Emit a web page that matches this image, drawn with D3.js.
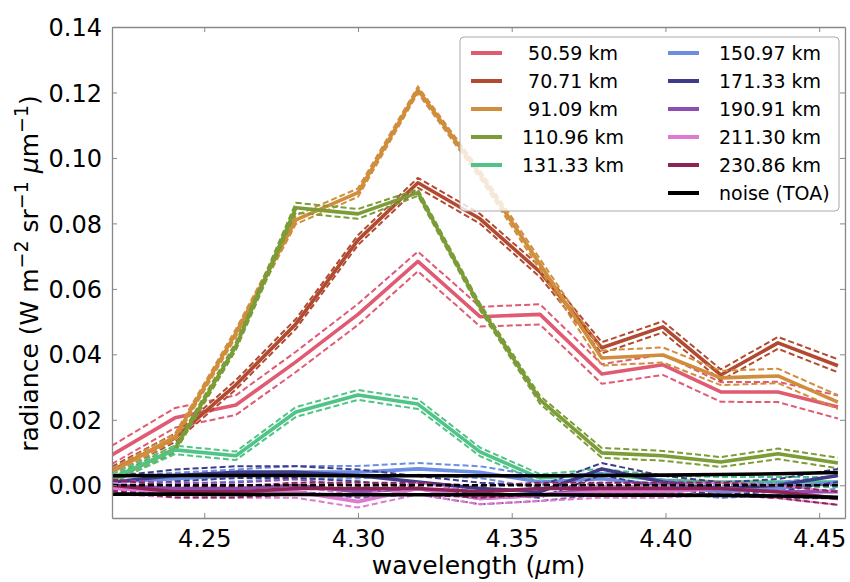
<!DOCTYPE html>
<html>
<head>
<meta charset="utf-8">
<script src="https://cdnjs.cloudflare.com/ajax/libs/d3/7.8.5/d3.min.js"></script>
<style>
  body { margin: 0; background: #fff; }
  svg { font-family: 'DejaVu Sans', sans-serif; }
</style>
</head>
<body>
<svg></svg>
<script>
//data
var wavelength = [4.2200, 4.2405, 4.2603, 4.2798, 4.3000, 4.3195, 4.3397, 4.3592, 4.3793, 4.3992, 4.4180, 4.4366, 4.4561];

var labels = [' 50.59 km', ' 70.71 km', ' 91.09 km', '110.96 km', '131.33 km',
              '150.97 km', '171.33 km', '190.91 km', '211.30 km', '230.86 km'];

var colors = ['#e05a72', '#b24a31', '#d08e3c', '#7b9c37', '#4fc486',
              '#6c8ee0', '#3e3b8b', '#8d4faf', '#dc7bcf', '#8d2457'];

var rad50  = [0.0093, 0.0206, 0.0245, 0.0377, 0.0522, 0.0684, 0.0515, 0.0522, 0.0340, 0.0368, 0.0285, 0.0285, 0.0239];
var rad70  = [0.0045, 0.0145, 0.0307, 0.0493, 0.0749, 0.0924, 0.0814, 0.0652, 0.0420, 0.0484, 0.0337, 0.0435, 0.0365];
var rad91  = [0.0041, 0.0148, 0.0465, 0.0811, 0.0894, 0.1208, 0.0950, 0.0675, 0.0389, 0.0398, 0.0328, 0.0334, 0.0254];
var rad110 = [0.0016, 0.0111, 0.0425, 0.0848, 0.0829, 0.0894, 0.0545, 0.0261, 0.0099, 0.0090, 0.0071, 0.0096, 0.0068];
var rad131 = [0.0022, 0.0108, 0.0090, 0.0224, 0.0276, 0.0248, 0.0102, 0.0022, 0.0035, 0.0015, 0.0010, 0.0010, 0.0010];
var rad150 = [0.0010, 0.0020, 0.0030, 0.0040, 0.0040, 0.0050, 0.0040, 0.0010, 0.0020, 0.0000, -0.0020, -0.0010, 0.0010];
var rad171 = [0.0010, 0.0030, 0.0040, 0.0040, 0.0030, 0.0010, -0.0010, -0.0020, 0.0050, 0.0010, -0.0010, 0.0000, 0.0030];
var rad190 = [0.0000, -0.0010, -0.0010, 0.0000, -0.0020, -0.0010, -0.0040, -0.0030, -0.0010, -0.0010, -0.0010, -0.0020, -0.0020];
var rad211 = [-0.0010, -0.0020, -0.0020, -0.0020, -0.0050, -0.0010, -0.0040, -0.0030, -0.0020, -0.0020, -0.0010, -0.0020, -0.0040];
var rad230 = [0.0000, -0.0020, -0.0020, -0.0010, -0.0010, -0.0010, -0.0020, -0.0010, -0.0010, -0.0010, -0.0010, -0.0020, -0.0040];

var err50  = [0.0028, 0.0030, 0.0030, 0.0031, 0.0032, 0.0030, 0.0030, 0.0031, 0.0030, 0.0031, 0.0030, 0.0031, 0.0035];
var err70  = [0.0012, 0.0013, 0.0014, 0.0015, 0.0015, 0.0015, 0.0015, 0.0016, 0.0017, 0.0017, 0.0017, 0.0018, 0.0020];
var err91  = [0.0010, 0.0010, 0.0012, 0.0013, 0.0013, 0.0010, 0.0012, 0.0016, 0.0023, 0.0023, 0.0022, 0.0022, 0.0021];
var err110 = [0.0010, 0.0010, 0.0012, 0.0015, 0.0015, 0.0010, 0.0010, 0.0012, 0.0015, 0.0015, 0.0015, 0.0016, 0.0016];
var err131 = [0.0012, 0.0013, 0.0013, 0.0015, 0.0015, 0.0015, 0.0013, 0.0012, 0.0015, 0.0015, 0.0015, 0.0015, 0.0015];
var err150 = [0.0018, 0.0018, 0.0018, 0.0019, 0.0019, 0.0018, 0.0018, 0.0018, 0.0018, 0.0018, 0.0019, 0.0019, 0.0020];
var err171 = [0.0017, 0.0018, 0.0018, 0.0018, 0.0018, 0.0018, 0.0018, 0.0018, 0.0018, 0.0019, 0.0019, 0.0019, 0.0020];
var err190 = [0.0017, 0.0017, 0.0018, 0.0018, 0.0018, 0.0018, 0.0018, 0.0018, 0.0018, 0.0018, 0.0019, 0.0019, 0.0020];
var err211 = [0.0017, 0.0017, 0.0018, 0.0018, 0.0018, 0.0018, 0.0018, 0.0018, 0.0018, 0.0018, 0.0019, 0.0019, 0.0020];
var err230 = [0.0017, 0.0017, 0.0017, 0.0018, 0.0018, 0.0018, 0.0018, 0.0018, 0.0018, 0.0018, 0.0018, 0.0019, 0.0020];

var noiseUp   = [0.0029, 0.0030, 0.0030, 0.0030, 0.0029, 0.0029, 0.0029, 0.0029, 0.0030, 0.0031, 0.0033, 0.0035, 0.0039];
var noiseDown = [-0.0027, -0.0027, -0.0028, -0.0028, -0.0029, -0.0029, -0.0029, -0.0029, -0.0030, -0.0030, -0.0031, -0.0033, -0.0037];

var xTicks = [4.25, 4.30, 4.35, 4.40, 4.45];
var yTicks = [0.00, 0.02, 0.04, 0.06, 0.08, 0.10, 0.12, 0.14];

var radiance = [rad50, rad70, rad91, rad110, rad131, rad150, rad171, rad190, rad211, rad230];
var errors   = [err50, err70, err91, err110, err131, err150, err171, err190, err211, err230];

//variables
var margin = {top: 27, right: 5, bottom: 64, left: 112},
    width  = 850 - margin.left - margin.right,
    height = 582 - margin.top  - margin.bottom;

var svg = d3.select('svg')
            .attr('width', 850)
            .attr('height', 582);

var g = svg.append('g')
            .attr('transform', 'translate(' + margin.left + ',' + margin.top + ')');

var x = d3.scaleLinear().domain([4.22, 4.4584]).range([0, width]);
var y = d3.scaleLinear().domain([-0.01, 0.14]).range([height, 0]);

g.append('clipPath').attr('id', 'clip')
    .append('rect').attr('width', width).attr('height', height);

var line = d3.line()
    .x((d, i) => x(wavelength[i]))
    .y(d => y(d));

var plot = g.append('g').attr('clip-path', 'url(#clip)');

// each altitude: solid radiance plus dashed +/- error
radiance.forEach((r, k) => {
    var up = r.map((v, i) => v + errors[k][i]),
        lo = r.map((v, i) => v - errors[k][i]);
    [up, lo].forEach(d => {
        plot.append('path')
            .attr('d', line(d))
            .attr('fill', 'none')
            .attr('stroke', colors[k])
            .attr('stroke-width', 2)
            .attr('stroke-dasharray', '6,3');
    });
    plot.append('path')
        .attr('d', line(r))
        .attr('fill', 'none')
        .attr('stroke', colors[k])
        .attr('stroke-width', 3.6)
        .attr('stroke-linejoin', 'round');
});

// noise level
plot.append('path')
    .attr('d', line(wavelength.map(() => 0)))
    .attr('fill', 'none')
    .attr('stroke', '#000')
    .attr('stroke-width', 2.5)
    .attr('stroke-dasharray', '6,3');

[noiseUp, noiseDown].forEach(d => {
    plot.append('path')
        .attr('d', line(d))
        .attr('fill', 'none')
        .attr('stroke', '#000')
        .attr('stroke-width', 3.6)
        .attr('stroke-linejoin', 'round');
});

//axes
var tickFmt = d3.format('.2f');
var spine = '#888';

var xAxis = g.append('g').attr('transform', 'translate(0,' + height + ')')
    .call(d3.axisBottom(x).tickValues(xTicks).tickFormat(tickFmt).tickSizeInner(-5).tickSizeOuter(0).tickPadding(12));
var yAxis = g.append('g')
    .call(d3.axisLeft(y).tickValues(yTicks).tickFormat(tickFmt).tickSizeInner(-5).tickSizeOuter(0).tickPadding(10));
var xTop = g.append('g')
    .call(d3.axisTop(x).tickValues(xTicks).tickFormat('').tickSizeInner(-5).tickSizeOuter(0));
var yRight = g.append('g').attr('transform', 'translate(' + width + ',0)')
    .call(d3.axisRight(y).tickValues(yTicks).tickFormat('').tickSizeInner(-5).tickSizeOuter(0));

[xAxis, yAxis, xTop, yRight].forEach(a => {
    a.selectAll('.domain').attr('stroke', spine).attr('stroke-width', 1.3);
    a.selectAll('.tick line').attr('stroke', spine);
    a.selectAll('.tick text').attr('fill', '#000').style('font-size', '24px').style('font-family', 'DejaVu Sans');
});
yAxis.selectAll('.tick text').attr('dy', '0.36em');

// labels
g.append('text')
    .attr('x', width / 2)
    .attr('y', height + 56)
    .attr('text-anchor', 'middle')
    .style('font-size', '25px')
    .html('wavelength (<tspan font-style="italic">\u03bc</tspan>m)');

var ylab = svg.append('text')
    .attr('transform', 'translate(38,' + (margin.top + height / 2 + 1) + ') rotate(-90)')
    .attr('text-anchor', 'middle')
    .style('font-size', '25px');
ylab.append('tspan').text('radiance (W m');
ylab.append('tspan').attr('dy', -10).style('font-size', '19px').text('\u22122');
ylab.append('tspan').attr('dy', 10).text(' sr');
ylab.append('tspan').attr('dy', -10).style('font-size', '19px').text('\u22121');
ylab.append('tspan').attr('dy', 10).text(' ');
ylab.append('tspan').attr('font-style', 'italic').text('\u03bc');
ylab.append('tspan').text('m');
ylab.append('tspan').attr('dy', -10).style('font-size', '19px').text('\u22121');
ylab.append('tspan').attr('dy', 10).text(')');

//legend
var legend = svg.append('g');
legend.append('rect')
    .attr('x', 460).attr('y', 37)
    .attr('width', 379).attr('height', 174)
    .attr('rx', 4)
    .attr('fill', '#fff').attr('fill-opacity', 0.8)
    .attr('stroke', '#aaa').attr('stroke-width', 1);

var legItems = labels.map((l, i) => ({label: l, color: colors[i]}));
legItems.push({label: 'noise (TOA)', color: '#000'});

legItems.forEach((d, i) => {
    var col = i < 5 ? 0 : 1,
        row = i < 5 ? i : i - 5,
        ly = 53 + row * 28,
        lx = col === 0 ? 471 : 668;
    legend.append('line')
        .attr('x1', lx).attr('x2', lx + 31)
        .attr('y1', ly).attr('y2', ly)
        .attr('stroke', d.color).attr('stroke-width', 4);
    legend.append('text')
        .attr('x', col === 0 ? 522 : 719)
        .attr('y', ly + 7)
        .style('font-size', '19px')
        .style('white-space', 'pre')
        .text(d.label);
});
</script>
</body>
</html>
